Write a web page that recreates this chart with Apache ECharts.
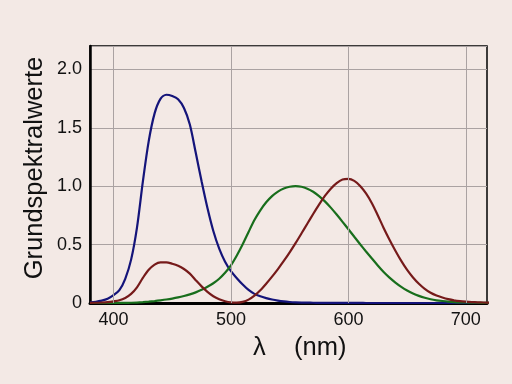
<!DOCTYPE html>
<html><head><meta charset="utf-8">
<script src="https://cdn.jsdelivr.net/npm/echarts@6/dist/echarts.min.js"></script>
<style>html,body{margin:0;padding:0;background:#f3e9e5}#c{width:512px;height:384px}</style>
</head><body><div id="c"></div>
<script>
const wavelengths = [380,385,390,395,400,405,410,415,420,425,430,435,440,445,450,455,460,465,470,475,480,485,490,495,500,505,510,515,520,525,530,535,540,545,550,555,560,565,570,575,580,585,590,595,600,605,610,615,620,625,630,635,640,645,650,655,660,665,670,675,680,685,690,695,700,705,710,715,720];
const redValues = [0.0014,0.0022,0.0042,0.0077,0.0143,0.0232,0.0435,0.0776,0.1344,0.2148,0.2839,0.3285,0.3483,0.3481,0.3362,0.3187,0.2908,0.2511,0.1954,0.1421,0.0956,0.0580,0.0320,0.0147,0.0049,0.0024,0.0093,0.0291,0.0633,0.1096,0.1655,0.2258,0.2904,0.3597,0.4334,0.5121,0.5945,0.6784,0.7621,0.8425,0.9163,0.9786,1.0263,1.0567,1.0622,1.0456,1.0026,0.9384,0.8545,0.7514,0.6424,0.5419,0.4479,0.3608,0.2835,0.2187,0.1649,0.1212,0.0874,0.0636,0.0468,0.0329,0.0227,0.0158,0.0114,0.0081,0.0058,0.0041,0.0029];
const greenValues = [0.0000,0.0001,0.0001,0.0002,0.0004,0.0006,0.0012,0.0022,0.0040,0.0073,0.0116,0.0168,0.0230,0.0298,0.0380,0.0480,0.0600,0.0739,0.0910,0.1126,0.1390,0.1693,0.2080,0.2586,0.3230,0.4073,0.5030,0.6082,0.7100,0.7932,0.8620,0.9149,0.9540,0.9803,0.9950,1.0000,0.9950,0.9786,0.9520,0.9154,0.8700,0.8163,0.7570,0.6949,0.6310,0.5668,0.5030,0.4412,0.3810,0.3210,0.2650,0.2170,0.1750,0.1382,0.1070,0.0816,0.0610,0.0446,0.0320,0.0232,0.0170,0.0119,0.0082,0.0057,0.0041,0.0029,0.0021,0.0015,0.0010];
const blueValues = [0.0065,0.0106,0.0201,0.0362,0.0679,0.1102,0.2074,0.3713,0.6456,1.0391,1.3856,1.6230,1.7471,1.7826,1.7721,1.7441,1.6692,1.5281,1.2876,1.0419,0.8130,0.6162,0.4652,0.3533,0.2720,0.2123,0.1582,0.1117,0.0783,0.0573,0.0422,0.0298,0.0203,0.0134,0.0088,0.0058,0.0039,0.0028,0.0021,0.0018,0.0017,0.0014,0.0011,0.0010,0.0008,0.0006,0.0003,0.0002,0.0002,0.0001,0.0001,0,0,0,0,0,0,0,0,0,0,0,0,0,0,0,0,0,0];
const xGridTicks = [400,500,600,700];
const yTicks = [0,0.5,1.0,1.5,2.0];

const pairs = v => wavelengths.map((w,i)=>[w,v[i]]);
const chart = echarts.init(document.getElementById('c'));
const FONT = 'Liberation Sans, Arial, sans-serif';
const lineSeries = (data,color)=>({type:'line',data:pairs(data),smooth:0.3,showSymbol:false,symbol:'none',z:3,clip:true,
  lineStyle:{color:color,width:2.2},silent:true});
chart.setOption({
  backgroundColor:'#f3e9e5',
  animation:false,
  grid:{left:90,top:46,right:25,bottom:81,show:true,borderColor:'#000',borderWidth:1.5,backgroundColor:'transparent'},
  xAxis:{type:'value',min:380,max:718,interval:20,
    axisLine:{show:true,onZero:false,lineStyle:{color:'#000',width:3}},
    axisTick:{show:false},
    splitLine:{show:false},
    axisLabel:{color:'#111',fontSize:18,fontFamily:FONT,margin:8,showMaxLabel:false,
      formatter:v=>xGridTicks.includes(v)?String(v):''}
  },
  yAxis:{type:'value',min:0,max:2.2,interval:0.5,
    axisLine:{show:true,lineStyle:{color:'#000',width:2.5}},
    axisTick:{show:false},
    splitLine:{show:true,lineStyle:{color:'#aaa2a2',width:1}},
    axisLabel:{color:'#111',fontSize:18,fontFamily:FONT,margin:8,
      formatter:v=>{ if(!yTicks.some(t=>Math.abs(t-v)<1e-6)) return ''; return v===0?'0':v.toFixed(1);} }
  },
  graphic:[
    {type:'text',x:35,y:168,rotation:Math.PI/2,style:{text:'Grundspektralwerte',fill:'#111',font:'25.5px "Liberation Sans", Arial, sans-serif',align:'center',verticalAlign:'middle'}},
    {type:'text',x:253,y:348,style:{text:'λ    (nm)',fill:'#111',font:'25.5px "Liberation Sans", Arial, sans-serif',align:'left',verticalAlign:'middle'}}
  ],
  series:[
    {type:'line',data:[],z:1,silent:true,
      markLine:{silent:true,symbol:'none',label:{show:false},animation:false,
        lineStyle:{color:'#aaa2a2',width:1,type:'solid'},
        data:xGridTicks.map(t=>({xAxis:t}))}},
    lineSeries(blueValues,'#14147a'),
    lineSeries(greenValues,'#186e1c'),
    lineSeries(redValues,'#761a1a')
  ]
});
</script></body></html>
